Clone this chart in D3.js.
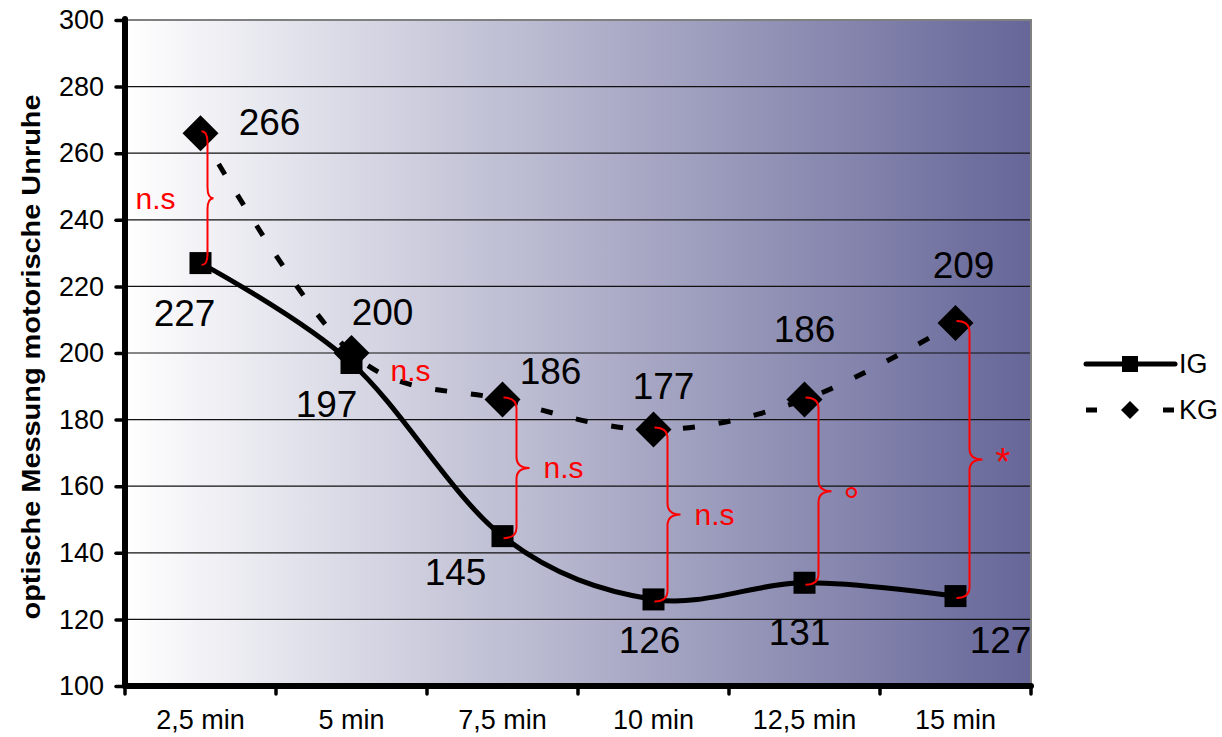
<!DOCTYPE html>
<html>
<head>
<meta charset="utf-8">
<script src="https://cdn.jsdelivr.net/npm/d3@7"></script>
<style>
  html, body { margin: 0; padding: 0; background: #ffffff; }
  svg { display: block; font-family: "Liberation Sans", Arial, sans-serif; }
</style>
</head>
<body>
<svg id="chart" width="1222" height="737"></svg>
<script>
// Measurement points and group means
const categories = ["2,5 min", "5 min", "7,5 min", "10 min", "12,5 min", "15 min"];
const igValues = [227, 197, 145, 126, 131, 127];
const kgValues = [266, 200, 186, 177, 186, 209];
const yTicks = [100, 120, 140, 160, 180, 200, 220, 240, 260, 280, 300];
// significance between groups at each point
const sigLabels = ["n.s", "n.s", "n.s", "n.s", "°", "*"];
const seriesNames = ["IG", "KG"];
const yTitle = "optische Messung motorische Unruhe";

// value label placement (dx, dy relative to the marker)
const igLabelOffsets = [[-16, 50], [-25, 42], [-47, 36], [-4, 41], [-5, 50], [45, 44]];
const kgLabelOffsets = [[69, -11], [31, -41], [48, -28], [10, -43], [0, -70], [8, -58]];

const svg = d3.select("#chart");
const plot = { left: 125, right: 1031, top: 20, bottom: 686 };

const x = d3.scaleBand().domain(categories).range([plot.left, plot.right]).padding(0);
const y = d3.scaleLinear().domain([100, 300]).range([plot.bottom, plot.top]);
const cx = c => x(c) + x.bandwidth() / 2;

// background gradient of the plot area
const defs = svg.append("defs");
const grad = defs.append("linearGradient").attr("id", "bg")
  .attr("x1", "0%").attr("x2", "100%").attr("y1", "0%").attr("y2", "0%");
grad.append("stop").attr("offset", "0%").attr("stop-color", "#ffffff");
grad.append("stop").attr("offset", "100%").attr("stop-color", "#666699");

svg.append("rect")
  .attr("x", plot.left).attr("y", plot.top)
  .attr("width", plot.right - plot.left).attr("height", plot.bottom - plot.top)
  .attr("fill", "url(#bg)");

// horizontal gridlines
svg.append("g").selectAll("line")
  .data(yTicks.filter(t => t > 100 && t < 300))
  .join("line")
  .attr("x1", plot.left).attr("x2", plot.right)
  .attr("y1", d => y(d)).attr("y2", d => y(d))
  .attr("stroke", "#111").attr("stroke-width", 1.2);

// top and right frame
svg.append("path")
  .attr("d", `M${plot.left},${y(300)} L${plot.right},${y(300)} L${plot.right},${plot.bottom}`)
  .attr("fill", "none").attr("stroke", "#808080").attr("stroke-width", 2);

// y axis
const yAxis = d3.axisLeft(y).tickValues(yTicks).tickSize(9).tickPadding(12).tickFormat(d3.format("d"));
const gy = svg.append("g").attr("transform", `translate(${plot.left},0)`).call(yAxis);
gy.select(".domain").remove();
gy.selectAll(".tick line").attr("stroke", "#000").attr("stroke-width", 3.5).attr("stroke-linecap", "round");
gy.selectAll(".tick text").attr("font-size", 27).attr("fill", "#000")
  .attr("font-family", "Liberation Sans, Arial, sans-serif");

// x axis: ticks on category boundaries
const boundaries = categories.map(c => x(c)).concat([plot.right]);
const gx = svg.append("g");
gx.selectAll("line.t").data(boundaries).join("line").attr("class", "t")
  .attr("x1", d => d).attr("x2", d => d)
  .attr("y1", plot.bottom).attr("y2", plot.bottom + 8)
  .attr("stroke", "#000").attr("stroke-width", 3.5).attr("stroke-linecap", "round");
gx.selectAll("text").data(categories).join("text")
  .attr("x", d => cx(d)).attr("y", 729)
  .attr("text-anchor", "middle").attr("font-size", 27).attr("fill", "#000")
  .text(d => d);

// axis lines
svg.append("line").attr("x1", plot.left).attr("x2", plot.left)
  .attr("y1", plot.top - 1).attr("y2", plot.bottom)
  .attr("stroke", "#000").attr("stroke-width", 6).attr("stroke-linecap", "round");
svg.append("line").attr("x1", plot.left).attr("x2", plot.right)
  .attr("y1", plot.bottom).attr("y2", plot.bottom)
  .attr("stroke", "#000").attr("stroke-width", 6).attr("stroke-linecap", "round");

// y axis title
svg.append("text")
  .attr("transform", `translate(40,357) rotate(-90)`)
  .attr("text-anchor", "middle").attr("font-size", 26).attr("font-weight", "bold")
  .attr("textLength", 525).attr("lengthAdjust", "spacingAndGlyphs")
  .attr("fill", "#000")
  .text(yTitle);

// series lines (smoothed)
const line = d3.line().x((d, i) => cx(categories[i])).y(d => y(d)).curve(d3.curveCardinal.tension(0));

svg.append("path").datum(kgValues).attr("d", line)
  .attr("fill", "none").attr("stroke", "#000").attr("stroke-width", 5)
  .attr("stroke-dasharray", "12,24");
svg.append("path").datum(igValues).attr("d", line)
  .attr("fill", "none").attr("stroke", "#000").attr("stroke-width", 5);

// markers
const diamond = (px, py, r) => `M${px},${py - r} L${px + r},${py} L${px},${py + r} L${px - r},${py} Z`;
svg.append("g").selectAll("rect").data(igValues).join("rect")
  .attr("x", (d, i) => cx(categories[i]) - 11).attr("y", d => y(d) - 11)
  .attr("width", 22).attr("height", 22).attr("fill", "#000");
svg.append("g").selectAll("path").data(kgValues).join("path")
  .attr("d", (d, i) => diamond(cx(categories[i]), y(d), 18)).attr("fill", "#000");

// value labels
svg.append("g").selectAll("text").data(igValues).join("text")
  .attr("x", (d, i) => cx(categories[i]) + igLabelOffsets[i][0])
  .attr("y", (d, i) => y(d) + igLabelOffsets[i][1])
  .attr("text-anchor", "middle").attr("dominant-baseline", "central")
  .attr("font-size", 37).attr("fill", "#000").text(d => d);
svg.append("g").selectAll("text").data(kgValues).join("text")
  .attr("x", (d, i) => cx(categories[i]) + kgLabelOffsets[i][0])
  .attr("y", (d, i) => y(d) + kgLabelOffsets[i][1])
  .attr("text-anchor", "middle").attr("dominant-baseline", "central")
  .attr("font-size", 37).attr("fill", "#000").text(d => d);

// curly braces between the groups with significance marks
function brace(x0, yTop, yBot, w) {
  const x1 = x0 + w / 2, x2 = x0 + w, ym = (yTop + yBot) / 2, r = 11;
  return `M${x0},${yTop} Q${x1},${yTop} ${x1},${yTop + r} L${x1},${ym - r} ` +
    `Q${x1},${ym} ${x2},${ym} Q${x1},${ym} ${x1},${ym + r} L${x1},${yBot - r} ` +
    `Q${x1},${yBot} ${x0},${yBot}`;
}
const sig = svg.append("g");
categories.forEach((c, i) => {
  const x0 = cx(c) + 1;
  const gap = kgValues[i] - igValues[i];
  const yTop = y(kgValues[i]), yBot = y(igValues[i]);
  const ym = (yTop + yBot) / 2;
  const mark = sigLabels[i];
  if (gap > 5) {
    const w = gap < 40 ? 12 : 26;
    sig.append("path").attr("d", brace(x0, yTop - 2, yBot + 2, w))
      .attr("fill", "none").attr("stroke", "#ff0000").attr("stroke-width", 2);
    const left = i === 0;
    const t = sig.append("text")
      .attr("x", left ? x0 - 26 : x0 + w + 14)
      .attr("text-anchor", left ? "end" : "start")
      .attr("fill", "#ff0000")
      .text(mark);
    if (mark === "°") {
      t.attr("y", ym + 24).attr("font-size", 40).attr("x", x0 + w + 12);
    } else if (mark === "*") {
      t.attr("y", ym + 15).attr("font-size", 38).attr("x", x0 + w + 13);
    } else {
      t.attr("y", ym).attr("dominant-baseline", "central").attr("font-size", 30);
    }
  } else {
    sig.append("text")
      .attr("x", x0 + 38).attr("y", 370)
      .attr("dominant-baseline", "central")
      .attr("font-size", 30).attr("fill", "#ff0000")
      .text(mark);
  }
});

// legend
const legend = svg.append("g");
const legY = [364, 410];
legend.append("line").attr("x1", 1086).attr("x2", 1175).attr("y1", legY[0]).attr("y2", legY[0])
  .attr("stroke", "#000").attr("stroke-width", 5).attr("stroke-linecap", "round");
legend.append("rect").attr("x", 1122).attr("y", legY[0] - 8).attr("width", 16).attr("height", 16).attr("fill", "#000");
legend.append("line").attr("x1", 1086).attr("x2", 1175).attr("y1", legY[1]).attr("y2", legY[1])
  .attr("stroke", "#000").attr("stroke-width", 5).attr("stroke-dasharray", "11,66");
legend.append("path").attr("d", diamond(1130, legY[1], 9)).attr("fill", "#000");
legend.selectAll("text").data(seriesNames).join("text")
  .attr("x", 1179).attr("y", (d, i) => legY[i])
  .attr("dominant-baseline", "central").attr("font-size", 27).attr("fill", "#000")
  .text(d => d);
</script>
</body>
</html>
